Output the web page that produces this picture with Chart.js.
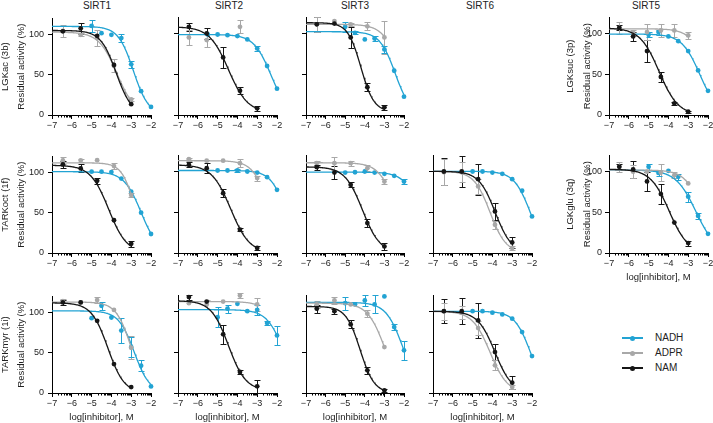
<!DOCTYPE html>
<html><head><meta charset="utf-8">
<script src="https://cdn.jsdelivr.net/npm/chart.js@4.4.1/dist/chart.umd.min.js"></script>
<style>
html,body{margin:0;padding:0;background:#fff;}
body{width:713px;height:423px;overflow:hidden;position:relative;font-family:"Liberation Sans",Arial,Helvetica,sans-serif;color:#222;}
canvas{position:absolute;}
.ct{position:absolute;top:0;font-size:10px;line-height:12px;transform:translateX(-50%);white-space:nowrap;}
.lg{position:absolute;font-size:10px;line-height:12px;white-space:nowrap;}
.lgl{position:absolute;height:1.5px;}
.lgd{position:absolute;width:5px;height:5px;border-radius:50%;}
</style></head><body>
<script>
// ---------- data ----------
const xTickValues = [-7,-6,-5,-4,-3,-2];
const yTickValues = [0,50,100];
const enzymes = ['SIRT1','SIRT2','SIRT3','SIRT6','SIRT5'];
const substrates = ['LGKac (3b)','TARKoct (1f)','TARKmyr (1i)'];
const sirt5Substrates = ['LGKsuc (3p)','LGKglu (3q)'];
const inhibitors = ['NADH','ADPR','NAM'];
const xAxisTitle = 'log[inhibitor], M';
const yAxisTitle = 'Residual activity (%)';

// log10 concentrations
const logConcNAM = [-6.45,-5.55,-4.72,-3.87,-3];
const logConcNADH = [-5,-4.5,-4,-3.5,-3,-2.5,-2];
const logConcNADH8 = [-5.5,-5,-4.5,-4,-3.5,-3,-2.5,-2];
const logConcSIRT5 = [-6.48,-5.78,-5.08,-4.38,-3.7,-3];
const logConcPartial = [-6.45,-5.55,-3.87];

// fit params: [top, bottom, logIC50, hill]
// SIRT1 - LGKac
const S1_LGKac_NADH = [110.6,101.6,99.6,95.5,63,29.6,10];
const S1_LGKac_NADH_sd = [7,0,0,5,4,0,0];
const S1_LGKac_NADH_fit = [110,0,-2.89,1.13];
const S1_LGKac_ADPR = [104.5,99.6,95.5,61,19.5];
const S1_LGKac_ADPR_sd = [7,2,10,8,2];
const S1_LGKac_ADPR_fit = [103,0,-3.72,0.95];
const S1_LGKac_NAM = [104,107.7,98.4,62.2,13.4];
const S1_LGKac_NAM_sd = [0,7,0,0,0];
const S1_LGKac_NAM_fit = [105,0,-3.76,1.1];
// SIRT2 - LGKac
const S2_LGKac_NADH = [98.6,98.6,97.8,96.6,92.5,81.5,60,32.2];
const S2_LGKac_NADH_sd = [0,0,0,0,0,3,0,0];
const S2_LGKac_NADH_fit = [98.5,0,-2.31,1];
const S2_LGKac_ADPR = [95,91.7,108];
const S2_LGKac_ADPR_sd = [9.5,8,8];
const S2_LGKac_NAM = [108,99.9,70.5,29.7,8.2];
const S2_LGKac_NAM_sd = [5,7,13,4,3];
const S2_LGKac_NAM_fit = [108,3,-4.45,0.9];
// SIRT3 - LGKac
const S3_LGKac_NADH = [108,100.6,92.5,93.7,80.3,54.2,22.4];
const S3_LGKac_NADH_sd = [6,2,0,3,4,0,0];
const S3_LGKac_NADH_fit = [102,0,-2.45,1.1];
const S3_LGKac_ADPR = [111,115,111,108.6,95];
const S3_LGKac_ADPR_sd = [9,0,2,5,20];
const S3_LGKac_ADPR_fit = [111,0,-2.2,1];
const S3_LGKac_NAM = [111,112,95,34,9.4];
const S3_LGKac_NAM_sd = [9,0,13,5,3];
const S3_LGKac_NAM_fit = [113,4,-4.2,1.3];
// SIRT5 - LGKsuc
const S5_LGKsuc_NADH = [98.6,101.9,96.6,90.8,78.6,54.8,29.7];
const S5_LGKsuc_NADH_sd = [3,3,0,0,0,0,0];
const S5_LGKsuc_NADH_fit = [99.5,0,-2.41,0.95];
const S5_LGKsuc_ADPR = [107,101,102,104,104,97.8];
const S5_LGKsuc_ADPR_sd = [7,4,10,8,8,4];
const S5_LGKsuc_ADPR_fit = [106,0,-2,1];
const S5_LGKsuc_NAM = [107.2,96.6,78.6,46.8,14.3,4];
const S5_LGKsuc_NAM_sd = [3,6,13,6,2,1];
const S5_LGKsuc_NAM_fit = [107,0,-4.47,0.9];
// SIRT1 - TARKoct
const S1_TARKoct_NADH = [101,101,100.5,92.4,76.2,50.1,23.6];
const S1_TARKoct_NADH_sd = [0,0,0,0,0,0,0];
const S1_TARKoct_NADH_fit = [101,0,-2.5,1];
const S1_TARKoct_ADPR = [114.9,114.9,115.3,108,72.1];
const S1_TARKoct_ADPR_sd = [4,2,0,4,3];
const S1_TARKoct_ADPR_fit = [112,0,-2.8,1.3];
const S1_TARKoct_NAM = [110,105.1,89.6,40.7,11.4];
const S1_TARKoct_NAM_sd = [4,5,4,0,4];
const S1_TARKoct_NAM_fit = [109,0,-4.14,0.95];
// SIRT2 - TARKoct
const S2_TARKoct_NADH = [101,101,101,99.8,98.5,92.9,77.4];
const S2_TARKoct_NADH_sd = [0,0,2,0,0,0,0];
const S2_TARKoct_NADH_fit = [101,0,-1.53,1.09];
const S2_TARKoct_ADPR = [114.9,113,113,110,91.7];
const S2_TARKoct_ADPR_sd = [2,0,0,5,3];
const S2_TARKoct_ADPR_fit = [113,0,-2.4,1.07];
const S2_TARKoct_NAM = [108,103.9,73.3,28.5,6.1];
const S2_TARKoct_NAM_sd = [3,6,5,2,2];
const S2_TARKoct_NAM_fit = [108,0,-4.34,0.91];
// SIRT3 - TARKoct
const S3_TARKoct_NADH = [98.5,98.9,99.8,98.5,96.9,94.5,87.5];
const S3_TARKoct_NADH_sd = [0,0,0,0,0,0,3];
const S3_TARKoct_NADH_fit = [99,0,-1.12,1];
const S3_TARKoct_ADPR = [110,110,110,103.9,87.5];
const S3_TARKoct_ADPR_sd = [3,8,3,4,3];
const S3_TARKoct_ADPR_fit = [110.5,0,-2.4,1];
const S3_TARKoct_NAM = [105.1,98.5,83.5,36.7,8.1];
const S3_TARKoct_NAM_sd = [3,8,3,5,4];
const S3_TARKoct_NAM_fit = [105.5,0,-4.12,0.97];
// SIRT6 - TARKoct
const S6_TARKoct_NADH = [99.8,99.8,98.5,96.9,90.4,76.2,44.8];
const S6_TARKoct_NADH_sd = [0,0,0,0,0,0,0];
const S6_TARKoct_NADH_fit = [100,0,-2.09,1.05];
const S6_TARKoct_ADPR = [99,99,81.5,34.6,6.1];
const S6_TARKoct_ADPR_sd = [16,12,9,5,2];
const S6_TARKoct_ADPR_fit = [100,0,-4.12,1.07];
const S6_TARKoct_NAM = [99.8,99.8,90.4,50.9,13];
const S6_TARKoct_NAM_sd = [17,19,19,10,7];
const S6_TARKoct_NAM_fit = [100,0,-3.86,1.05];
// SIRT5 - LGKglu
const S5_LGKglu_NADH = [105.9,98.5,101,93.6,69.2,45.6,23.6];
const S5_LGKglu_NADH_sd = [4,4,0,4,6,4,0];
const S5_LGKglu_NADH_fit = [102,0,-2.61,0.85];
const S5_LGKglu_ADPR = [106,100,100,99,95.7,85.6];
const S5_LGKglu_ADPR_sd = [6,8,0,10,4,0];
const S5_LGKglu_ADPR_fit = [102,0,-2.28,1];
const S5_LGKglu_NAM = [105.9,102.7,88,72.5,37.4,12.2];
const S5_LGKglu_NAM_sd = [3,10,12,12,0,3];
const S5_LGKglu_NAM_fit = [103,0,-3.96,0.92];
// SIRT1 - TARKmyr
const S1_TARKmyr_NADH = [92.9,108.4,93.8,77.5,57.1,33.9,8.2];
const S1_TARKmyr_NADH_sd = [0,5,0,16,13,7,0];
const S1_TARKmyr_NADH_fit = [102,0,-2.85,1.1];
const S1_TARKmyr_ADPR = [114.2,112.5,115.4,103.2,56.2];
const S1_TARKmyr_ADPR_sd = [3,0,4,0,14];
const S1_TARKmyr_ADPR_fit = [113,0,-3.0,1.14];
const S1_TARKmyr_NAM = [112.5,112.5,89.7,35.9,7.3];
const S1_TARKmyr_NAM_sd = [3,0,0,0,0];
const S1_TARKmyr_NAM_fit = [112,0,-4.18,1.05];
// SIRT2 - TARKmyr
const S2_TARKmyr_NADH = [92.9,103.2,109.3,100.2,101.9,85.6,70.5];
const S2_TARKmyr_NADH_sd = [12,5,0,0,6,2,12];
const S2_TARKmyr_NADH_fit = [102,0,-1.65,1];
const S2_TARKmyr_ADPR = [110,108.4,112,119.4,108.4];
const S2_TARKmyr_ADPR_sd = [0,5,0,3,8];
const S2_TARKmyr_ADPR_fit = [112,0,-1.6,1];
const S2_TARKmyr_NAM = [117.4,112,71.8,25.7,8.2];
const S2_TARKmyr_NAM_sd = [3,0,12,2,8];
const S2_TARKmyr_NAM_fit = [113,3,-4.45,1];
// SIRT3 - TARKmyr
const S3_TARKmyr_NADH = [110,108.4,113.3,108.4,118.2,80.7,52.2];
const S3_TARKmyr_NADH_sd = [8,0,7,11,0,4,12];
const S3_TARKmyr_NADH_fit = [111,0,-2.05,1];
const S3_TARKmyr_ADPR = [108.4,113.3,108.4,97.1,56.2];
const S3_TARKmyr_ADPR_sd = [4,4,0,4,0];
const S3_TARKmyr_ADPR_fit = [110,0,-2.98,0.99];
const S3_TARKmyr_NAM = [103.2,100.2,84,27.8,3.3];
const S3_TARKmyr_NAM_sd = [5,3,5,4,2];
const S3_TARKmyr_NAM_fit = [106,0,-4.24,1.2];
// SIRT6 - TARKmyr
const S6_TARKmyr_NADH = [100.2,100.2,98.3,96.2,91,74.6,45.2];
const S6_TARKmyr_NADH_sd = [0,0,0,0,0,0,0];
const S6_TARKmyr_NADH_fit = [100,0,-2.08,1.08];
const S6_TARKmyr_ADPR = [100,98.3,79.5,33.9,7.3];
const S6_TARKmyr_ADPR_sd = [10,8,9,6,2];
const S6_TARKmyr_ADPR_fit = [100,0,-4.12,0.98];
const S6_TARKmyr_NAM = [100.2,100.2,88.9,50.1,12.7];
const S6_TARKmyr_NAM_sd = [15,16,21,10,8];
const S6_TARKmyr_NAM_fit = [100,0,-3.87,1.0];

// panel table built from the arrays above: [row, col, NADH, ADPR, NAM] each series = [x, y, sd, fit]
const panels = [
  [0,0,[logConcNADH,S1_LGKac_NADH,S1_LGKac_NADH_sd,S1_LGKac_NADH_fit],[logConcNAM,S1_LGKac_ADPR,S1_LGKac_ADPR_sd,S1_LGKac_ADPR_fit],[logConcNAM,S1_LGKac_NAM,S1_LGKac_NAM_sd,S1_LGKac_NAM_fit]],
  [0,1,[logConcNADH8,S2_LGKac_NADH,S2_LGKac_NADH_sd,S2_LGKac_NADH_fit],[logConcPartial,S2_LGKac_ADPR,S2_LGKac_ADPR_sd,null],[logConcNAM,S2_LGKac_NAM,S2_LGKac_NAM_sd,S2_LGKac_NAM_fit]],
  [0,2,[logConcNADH,S3_LGKac_NADH,S3_LGKac_NADH_sd,S3_LGKac_NADH_fit],[logConcNAM,S3_LGKac_ADPR,S3_LGKac_ADPR_sd,S3_LGKac_ADPR_fit],[logConcNAM,S3_LGKac_NAM,S3_LGKac_NAM_sd,S3_LGKac_NAM_fit]],
  [0,4,[logConcNADH,S5_LGKsuc_NADH,S5_LGKsuc_NADH_sd,S5_LGKsuc_NADH_fit],[logConcSIRT5,S5_LGKsuc_ADPR,S5_LGKsuc_ADPR_sd,S5_LGKsuc_ADPR_fit],[logConcSIRT5,S5_LGKsuc_NAM,S5_LGKsuc_NAM_sd,S5_LGKsuc_NAM_fit]],
  [1,0,[logConcNADH,S1_TARKoct_NADH,S1_TARKoct_NADH_sd,S1_TARKoct_NADH_fit],[logConcNAM,S1_TARKoct_ADPR,S1_TARKoct_ADPR_sd,S1_TARKoct_ADPR_fit],[logConcNAM,S1_TARKoct_NAM,S1_TARKoct_NAM_sd,S1_TARKoct_NAM_fit]],
  [1,1,[logConcNADH,S2_TARKoct_NADH,S2_TARKoct_NADH_sd,S2_TARKoct_NADH_fit],[logConcNAM,S2_TARKoct_ADPR,S2_TARKoct_ADPR_sd,S2_TARKoct_ADPR_fit],[logConcNAM,S2_TARKoct_NAM,S2_TARKoct_NAM_sd,S2_TARKoct_NAM_fit]],
  [1,2,[logConcNADH,S3_TARKoct_NADH,S3_TARKoct_NADH_sd,S3_TARKoct_NADH_fit],[logConcNAM,S3_TARKoct_ADPR,S3_TARKoct_ADPR_sd,S3_TARKoct_ADPR_fit],[logConcNAM,S3_TARKoct_NAM,S3_TARKoct_NAM_sd,S3_TARKoct_NAM_fit]],
  [1,3,[logConcNADH,S6_TARKoct_NADH,S6_TARKoct_NADH_sd,S6_TARKoct_NADH_fit],[logConcNAM,S6_TARKoct_ADPR,S6_TARKoct_ADPR_sd,S6_TARKoct_ADPR_fit],[logConcNAM,S6_TARKoct_NAM,S6_TARKoct_NAM_sd,S6_TARKoct_NAM_fit]],
  [1,4,[logConcNADH,S5_LGKglu_NADH,S5_LGKglu_NADH_sd,S5_LGKglu_NADH_fit],[logConcSIRT5,S5_LGKglu_ADPR,S5_LGKglu_ADPR_sd,S5_LGKglu_ADPR_fit],[logConcSIRT5,S5_LGKglu_NAM,S5_LGKglu_NAM_sd,S5_LGKglu_NAM_fit]],
  [2,0,[logConcNADH,S1_TARKmyr_NADH,S1_TARKmyr_NADH_sd,S1_TARKmyr_NADH_fit],[logConcNAM,S1_TARKmyr_ADPR,S1_TARKmyr_ADPR_sd,S1_TARKmyr_ADPR_fit],[logConcNAM,S1_TARKmyr_NAM,S1_TARKmyr_NAM_sd,S1_TARKmyr_NAM_fit]],
  [2,1,[logConcNADH,S2_TARKmyr_NADH,S2_TARKmyr_NADH_sd,S2_TARKmyr_NADH_fit],[logConcNAM,S2_TARKmyr_ADPR,S2_TARKmyr_ADPR_sd,S2_TARKmyr_ADPR_fit],[logConcNAM,S2_TARKmyr_NAM,S2_TARKmyr_NAM_sd,S2_TARKmyr_NAM_fit]],
  [2,2,[logConcNADH,S3_TARKmyr_NADH,S3_TARKmyr_NADH_sd,S3_TARKmyr_NADH_fit],[logConcNAM,S3_TARKmyr_ADPR,S3_TARKmyr_ADPR_sd,S3_TARKmyr_ADPR_fit],[logConcNAM,S3_TARKmyr_NAM,S3_TARKmyr_NAM_sd,S3_TARKmyr_NAM_fit]],
  [2,3,[logConcNADH,S6_TARKmyr_NADH,S6_TARKmyr_NADH_sd,S6_TARKmyr_NADH_fit],[logConcNAM,S6_TARKmyr_ADPR,S6_TARKmyr_ADPR_sd,S6_TARKmyr_ADPR_fit],[logConcNAM,S6_TARKmyr_NAM,S6_TARKmyr_NAM_sd,S6_TARKmyr_NAM_fit]]
];

// ---------- styles / layout ----------
const COLORS = {NADH:'#22a3d3', ADPR:'#a8a8a8', NAM:'#161616'};
const FONT = '"Liberation Sans", Arial, Helvetica, sans-serif';
const TEXT = '#222';
const colLeft = [52,178,306,433,609];
const colWidth = [99,99,98,99,99];
const rowBottom = [115,253,393];
const PLOT_H = 98, PT = 8, XH = 30, PR = 10;
const titleX = [97,229,355,480,646];

Chart.defaults.font.family = FONT;

function fmt(v){ return (v<0?'\u2212':'') + Math.abs(v); }

const errorBars = {
  id:'errorBars',
  beforeDatasetsDraw(chart){
    const ctx = chart.ctx, xs = chart.scales.x, ys = chart.scales.y;
    chart.data.datasets.forEach(ds=>{
      if(!ds.sd) return;
      ctx.save(); ctx.strokeStyle = ds.backgroundColor; ctx.lineWidth = 1;
      ds.data.forEach((p,j)=>{
        const e = ds.sd[j]; if(!e) return;
        const px = Math.round(xs.getPixelForValue(p.x))+0.5;
        const y1 = Math.round(ys.getPixelForValue(p.y+e))+0.5, y2 = Math.round(ys.getPixelForValue(p.y-e))+0.5;
        ctx.beginPath();
        ctx.moveTo(px,y1); ctx.lineTo(px,y2);
        ctx.moveTo(px-3,y1); ctx.lineTo(px+3,y1);
        ctx.moveTo(px-3,y2); ctx.lineTo(px+3,y2);
        ctx.stroke();
      });
      ctx.restore();
    });
  }
};
const minorTicks = {
  id:'minorTicks',
  afterDraw(chart){
    const ctx = chart.ctx, xs = chart.scales.x, yb = chart.chartArea.bottom;
    ctx.save(); ctx.strokeStyle='#000'; ctx.lineWidth=1; ctx.beginPath();
    for(let d=xTickValues[0]; d<xTickValues[xTickValues.length-1]; d++){
      for(let k=2;k<=9;k++){
        const px = Math.round(xs.getPixelForValue(d+Math.log10(k)))+0.5;
        ctx.moveTo(px,yb); ctx.lineTo(px,yb+2.5);
      }
    }
    ctx.stroke(); ctx.restore();
  }
};

function curve(fit, xmax){
  const [top,bottom,c,h] = fit, pts=[];
  for(let x=xTickValues[0]; x<=xmax+1e-9; x+=0.04){
    pts.push({x, y: bottom + (top-bottom)/(1+Math.pow(10,(x-c)*h))});
  }
  return pts;
}

// column titles
enzymes.forEach((e,i)=>{
  const d=document.createElement('div'); d.className='ct'; d.textContent=e;
  d.style.left=titleX[i]+'px'; document.body.appendChild(d);
});

panels.forEach(p=>{
  const [row,col] = p;
  const series = [p[2],p[3],p[4]];
  const YW = col===0 ? 55 : (col===4 ? 47 : 10);
  const w = YW + colWidth[col] + PR, h = PT + PLOT_H + XH;
  const cv = document.createElement('canvas');
  cv.width = w; cv.height = h;
  cv.style.width = w+'px'; cv.style.height = h+'px';
  cv.style.left = (colLeft[col]-YW)+'px';
  cv.style.top = (rowBottom[row]-PLOT_H-PT)+'px';
  document.body.appendChild(cv);

  const datasets = [];
  [2,1,0].forEach(si=>{
    const [xs,ys,sd,fit] = series[si];
    const name = inhibitors[si], color = COLORS[name];
    datasets.push({label:name, data: xs.map((x,i)=>({x, y: ys[i]})), sd,
      backgroundColor: color, borderColor: color, pointRadius: 2.4, pointBorderWidth:0,
      showLine:false, clip:false});
    if(fit){
      datasets.push({label:name+' fit', data: curve(fit, xs[xs.length-1]), borderColor: color,
        backgroundColor: color, borderWidth: 1.3, pointRadius: 0, showLine:true, tension:0, clip:false});
    }
  });

  const yLabel = col===0 ? [substrates[row], yAxisTitle] : (col===4 ? [sirt5Substrates[row], yAxisTitle] : null);
  const showXTitle = row===2 || (col===4 && row===1);

  new Chart(cv, {
    type:'scatter',
    data:{datasets},
    options:{
      responsive:false, maintainAspectRatio:false, animation:false, devicePixelRatio:1,
      layout:{padding:{left:0, top:PT, right:PR, bottom:0}},
      plugins:{legend:{display:false}, tooltip:{enabled:false}, title:{display:false}},
      scales:{
        x:{type:'linear', min:-7, max:-2, position:'bottom',
          afterBuildTicks: s=>{ s.ticks = xTickValues.map(v=>({value:v})); },
          afterFit: s=>{ s.height = XH; },
          ticks:{font:{size:9, family:FONT}, color:TEXT, padding:1, maxRotation:0, autoSkip:false, callback: v=>fmt(v)},
          grid:{drawOnChartArea:false, drawTicks:true, tickLength:4, tickColor:'#000', tickWidth:1},
          border:{display:true, color:'#000', width:1},
          title:{display:showXTitle, text:xAxisTitle, color:TEXT, font:{size:9.5, family:FONT, lineHeight:1.2}, padding:0}
        },
        y:{type:'linear', min:0, max:120, position:'left',
          afterBuildTicks: s=>{ s.ticks = yTickValues.map(v=>({value:v})); },
          afterFit: s=>{ s.width = YW; },
          ticks:{display: !!yLabel, font:{size:9, family:FONT}, color:TEXT, padding: col===0?4:3},
          grid:{drawOnChartArea:false, drawTicks:true, tickLength:4, tickColor:'#000', tickWidth:1},
          border:{display:true, color:'#000', width:1},
          title:{display: !!yLabel, text: yLabel || '', color:TEXT, font:{size:9.5, family:FONT, lineHeight: col===0?1.68:1.75}, padding:0}
        }
      }
    },
    plugins:[errorBars, minorTicks]
  });
});

// legend
const legendY = [338,353,368];
inhibitors.forEach((n,i)=>{
  const y = legendY[i];
  const l=document.createElement('div'); l.className='lgl';
  l.style.left='622px'; l.style.width='21px'; l.style.top=(y-0.75)+'px'; l.style.background=COLORS[n];
  document.body.appendChild(l);
  const d=document.createElement('div'); d.className='lgd';
  d.style.left='630px'; d.style.top=(y-2.5)+'px'; d.style.background=COLORS[n];
  document.body.appendChild(d);
  const t=document.createElement('div'); t.className='lg'; t.textContent=n;
  t.style.left='655px'; t.style.top=(y-6)+'px';
  document.body.appendChild(t);
});
</script>
</body></html>
